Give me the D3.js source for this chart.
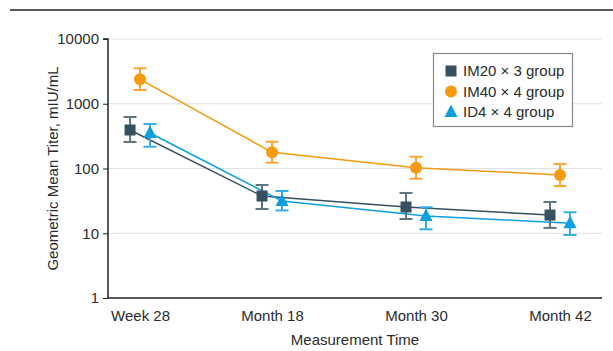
<!DOCTYPE html>
<html><head><meta charset="utf-8">
<script src="https://cdn.jsdelivr.net/npm/d3@7"></script>
<style>
html,body{margin:0;padding:0;background:#fff;}
svg text{font-family:"Liberation Sans",Arial,sans-serif;fill:#2b2b2b;}
</style></head>
<body><svg id="c" width="613" height="351"></svg>
<script>
// Data
const timeLabels = ["Week 28", "Month 18", "Month 30", "Month 42"];
const timeMonths = [7, 18, 30, 42];
const seriesNames = ["IM20 × 3 group", "IM40 × 4 group", "ID4 × 4 group"];
const im20 = [393, 37.6, 25.4, 19.1];
const im20Lo = [257, 23.7, 16.6, 12.1];
const im20Hi = [624, 55.6, 41.9, 30.4];
const im40 = [2387, 178, 103, 79.4];
const im40Lo = [1630, 123, 69.5, 53.7];
const im40Hi = [3527, 259, 152, 117];
const id4 = [353, 31.5, 18.5, 14.3];
const id4Lo = [217, 22.5, 11.5, 9.4];
const id4Hi = [487, 44.9, 25.2, 21.1];
const yTicks = [1, 10, 100, 1000, 10000];

(function () {
const series = [
  {name: seriesNames[0], v: im20, lo: im20Lo, hi: im20Hi, color: "#35515f", err: "#5e7481", shape: "square", off: -10},
  {name: seriesNames[1], v: im40, lo: im40Lo, hi: im40Hi, color: "#f39a10", err: "#f5a63a", shape: "circle", off: 0},
  {name: seriesNames[2], v: id4, lo: id4Lo, hi: id4Hi, color: "#0d9fdd", err: "#35ade2", shape: "triangle", off: 10}
];

const svg = d3.select("#c");
const pL = 108, pR = 602, pT = 39, pB = 298;
const fs = "15px";
const x = d3.scaleLinear().domain([4.33, 45.5]).range([pL, pR]);
const y = d3.scaleLog().domain([1, 10000]).range([pB, pT]);

// top rule
svg.append("line").attr("x1", 10).attr("x2", 613).attr("y1", 10).attr("y2", 10)
  .attr("stroke", "#222").attr("stroke-width", 1.5);

// gridlines
svg.append("g").selectAll("line").data(yTicks.slice(1)).join("line")
  .attr("x1", pL).attr("x2", pR).attr("y1", d => y(d)).attr("y2", d => y(d))
  .attr("stroke", "#e2e2e2").attr("stroke-width", 1);

// y axis
const yAxis = svg.append("g").attr("transform", `translate(${pL},0)`)
  .call(d3.axisLeft(y).tickValues(yTicks).tickFormat(d3.format("d")).tickSize(5).tickPadding(4));
yAxis.select(".domain").attr("stroke", "#222").attr("stroke-width", 1.5).attr("d", `M-5,${pT}H0V${pB}`);
yAxis.selectAll(".tick line").attr("stroke", "#222");
yAxis.selectAll(".tick text").style("font-size", fs).attr("fill", "#2b2b2b");

// x axis
const xAxis = svg.append("g").attr("transform", `translate(0,${pB})`)
  .call(d3.axisBottom(x).tickValues(timeMonths).tickFormat((d, i) => timeLabels[i]).tickSize(0).tickPadding(12));
xAxis.select(".domain").attr("stroke", "#222").attr("stroke-width", 1.5).attr("d", `M${pL},0H${pR}`);
xAxis.selectAll(".tick text").style("font-size", fs).attr("fill", "#2b2b2b");

// titles
svg.append("text").attr("x", (pL + pR) / 2).attr("y", 345).attr("text-anchor", "middle")
  .style("font-size", fs).text("Measurement Time");
svg.append("text").attr("transform", `translate(58,${(pT + pB) / 2}) rotate(-90)`)
  .attr("text-anchor", "middle").style("font-size", fs).text("Geometric Mean Titer, mIU/mL");

function drawShape(g, shape, color, cx, cy) {
  if (shape === "square") {
    g.append("rect").attr("x", cx - 5.5).attr("y", cy - 5.5).attr("width", 11).attr("height", 11).attr("fill", color);
  } else if (shape === "circle") {
    g.append("circle").attr("cx", cx).attr("cy", cy).attr("r", 6).attr("fill", color);
  } else {
    g.append("path").attr("d", `M${cx},${cy - 7.5}L${cx + 6.5},${cy + 5}L${cx - 6.5},${cy + 5}Z`).attr("fill", color);
  }
}

// lines
series.forEach(s => {
  const line = d3.line().x((d, i) => x(timeMonths[i]) + s.off).y(d => y(d));
  svg.append("path").datum(s.v).attr("d", line).attr("fill", "none")
    .attr("stroke", s.color).attr("stroke-width", 1.5);
});

// error bars and markers
series.forEach(s => {
  const g = svg.append("g");
  s.v.forEach((v, i) => {
    const cx = x(timeMonths[i]) + s.off;
    const eg = g.append("g").attr("stroke", s.err).attr("stroke-width", 2);
    eg.append("line").attr("x1", cx).attr("x2", cx).attr("y1", y(s.lo[i])).attr("y2", y(s.hi[i]));
    eg.append("line").attr("x1", cx - 6.5).attr("x2", cx + 6.5).attr("y1", y(s.lo[i])).attr("y2", y(s.lo[i]));
    eg.append("line").attr("x1", cx - 6.5).attr("x2", cx + 6.5).attr("y1", y(s.hi[i])).attr("y2", y(s.hi[i]));
  });
  s.v.forEach((v, i) => {
    drawShape(g, s.shape, s.color, x(timeMonths[i]) + s.off, y(v));
  });
});

// legend
const lg = svg.append("g");
lg.append("rect").attr("x", 433.5).attr("y", 53.5).attr("width", 139).attr("height", 73)
  .attr("fill", "#fff").attr("stroke", "#888").attr("stroke-width", 1.2);
series.forEach((s, i) => {
  const cy = 71 + i * 20.5;
  drawShape(lg, s.shape, s.color, 451, cy);
  lg.append("text").attr("x", 463).attr("y", cy + 5).style("font-size", fs).text(s.name);
});
})();
</script></body></html>
